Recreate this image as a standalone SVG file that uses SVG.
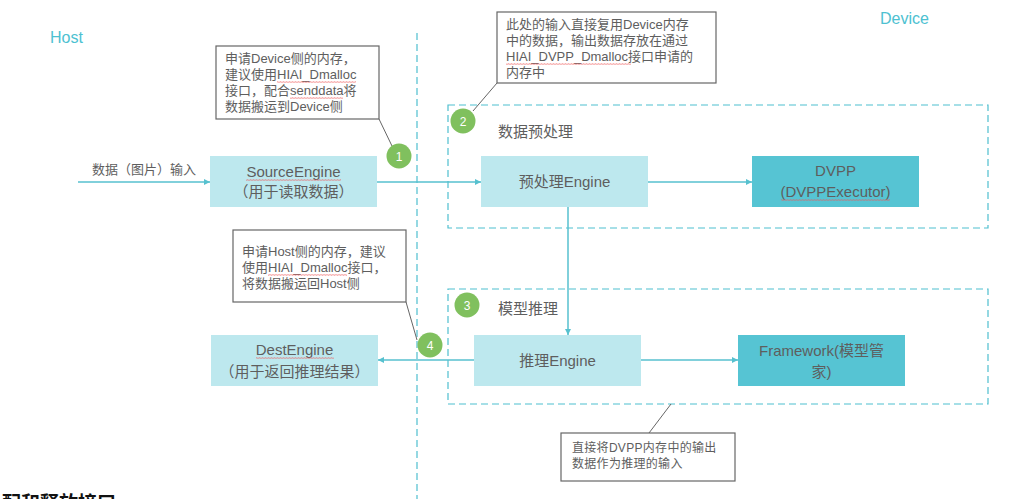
<svg xmlns="http://www.w3.org/2000/svg" width="1024" height="499" viewBox="0 0 1024 499">
<style>
text{font-family:"Liberation Sans","Noto Sans CJK SC",sans-serif;fill:#5e5e5e}
.lbl{font-size:15px;text-anchor:middle}
.note{font-size:13px}
.note2{font-size:12px;letter-spacing:0.3px}
.zone{font-size:16px;fill:#4dc1d1}
.num{font-size:12px;fill:#fff;text-anchor:middle}
.light{fill:#bde8ee}
.dark{fill:#56c4d3}
.dash{fill:none;stroke:#4fbfcf;stroke-width:1.2;stroke-dasharray:7 4}
.callout{fill:#fff;stroke:#666;stroke-width:1.2}
.lead{stroke:#666;stroke-width:1}
.badge{fill:#80c05e}
.conn{stroke:#57c1cf;stroke-width:1.5;fill:none;marker-end:url(#ah)}
.wave{fill:url(#wv)}
</style>
<defs>
<marker id="ah" viewBox="0 0 10 10" refX="10" refY="5" markerWidth="6" markerHeight="6" orient="auto" markerUnits="userSpaceOnUse">
<path d="M0,0L10,5L0,10z" fill="#57c1cf"/>
</marker>
<pattern id="wv" width="3" height="2" patternUnits="userSpaceOnUse">
<polyline points="0,1.7 0.75,0.3 1.5,1.7 2.25,0.3 3,1.7" fill="none" stroke="#e55" stroke-width="0.5" stroke-opacity="0.85"/>
</pattern>
</defs>
<rect width="1024" height="499" fill="#fff"/>

<g id="zones">
<text class="zone" x="50" y="43">Host</text>
<text class="zone" x="880" y="24">Device</text>
<line x1="417" y1="33" x2="417" y2="499" class="dash"/>
</g>

<g id="group-preprocess">
<rect x="448" y="105" width="540" height="123" class="dash"/>
<text x="498" y="137" style="font-size:15px">数据预处理</text>
</g>
<g id="group-inference">
<rect x="448" y="289" width="540" height="115" class="dash"/>
<text x="498" y="314" style="font-size:15px">模型推理</text>
</g>

<g id="connectors">
<line x1="78" y1="182" x2="210" y2="182" class="conn"/>
<line x1="377" y1="182" x2="481" y2="182" class="conn"/>
<line x1="648" y1="182" x2="752" y2="182" class="conn"/>
<line x1="568" y1="207" x2="568" y2="335" class="conn"/>
<line x1="634" y1="360" x2="738" y2="360" class="conn"/>
<line x1="474" y1="360" x2="378" y2="360" class="conn"/>
<text x="92" y="174" style="font-size:13px">数据（图片）输入</text>
</g>

<g id="SourceEngine">
<rect x="210" y="156" width="167" height="51" class="light"/>
<text class="lbl" x="293.5" y="177">SourceEngine</text>
<text class="lbl" x="293.5" y="197">（用于读取数据）</text>
<rect x="246" y="179" width="95" height="2" class="wave"/>
</g>

<g id="PreprocessEngine">
<rect x="481" y="156" width="167" height="51" class="light"/>
<text class="lbl" x="564.5" y="187">预处理Engine</text>
</g>

<g id="DVPP">
<rect x="752" y="156" width="167" height="51" class="dark"/>
<text class="lbl" x="835.5" y="176">DVPP</text>
<text class="lbl" x="835.5" y="197">(DVPPExecutor)</text>
<rect x="781" y="199" width="109" height="2" class="wave"/>
</g>

<g id="InferenceEngine">
<rect x="474" y="335" width="167" height="51" class="light"/>
<text class="lbl" x="557.5" y="366">推理Engine</text>
</g>

<g id="Framework">
<rect x="738" y="335" width="167" height="51" class="dark"/>
<text class="lbl" x="821.5" y="356">Framework(模型管</text>
<text class="lbl" x="821.5" y="377">家)</text>
</g>

<g id="DestEngine">
<rect x="211" y="335" width="167" height="51" class="light"/>
<text class="lbl" x="294.5" y="355">DestEngine</text>
<text class="lbl" x="294.5" y="377">（用于返回推理结果）</text>
<rect x="256" y="357" width="78" height="2" class="wave"/>
</g>

<g id="note1">
<rect x="216" y="46" width="163" height="73" class="callout"/>
<line x1="379" y1="119" x2="392" y2="146" class="lead"/>
<text class="note" x="225" y="63">申请Device侧的内存，</text>
<text class="note" x="225" y="79">建议使用HIAI_Dmalloc</text>
<text class="note" x="225" y="95">接口，配合senddata将</text>
<text class="note" x="225" y="111">数据搬运到Device侧</text>
<rect x="277" y="81" width="79" height="2" class="wave"/>
<rect x="290" y="97" width="53" height="2" class="wave"/>
<circle cx="399" cy="156" r="12.5" class="badge"/>
<text class="num" x="399" y="160.5">1</text>
</g>

<g id="note2">
<rect x="497" y="12" width="219" height="71" class="callout"/>
<line x1="497" y1="83" x2="473" y2="111" class="lead"/>
<text class="note" x="506" y="29">此处的输入直接复用Device内存</text>
<text class="note" x="506" y="45">中的数据，输出数据存放在通过</text>
<text class="note" x="506" y="61">HIAI_DVPP_Dmalloc接口申请的</text>
<text class="note" x="506" y="77">内存中</text>
<rect x="506" y="63" width="125" height="2" class="wave"/>
<circle cx="463" cy="121" r="12.5" class="badge"/>
<text class="num" x="463" y="125.5">2</text>
</g>

<g id="badge3">
<circle cx="467" cy="305" r="12.5" class="badge"/>
<text class="num" x="467" y="309.5">3</text>
</g>

<g id="note4">
<rect x="233" y="230" width="173" height="72" class="callout"/>
<line x1="406" y1="302" x2="417" y2="340" class="lead"/>
<text class="note" x="242" y="256">申请Host侧的内存，建议</text>
<text class="note" x="242" y="272">使用HIAI_Dmalloc接口，</text>
<text class="note" x="242" y="288">将数据搬运回Host侧</text>
<rect x="268" y="274" width="79" height="2" class="wave"/>
<circle cx="430" cy="345" r="12.5" class="badge"/>
<text class="num" x="430" y="349.5">4</text>
</g>

<g id="note5">
<rect x="561" y="433" width="174" height="48" class="callout"/>
<line x1="649" y1="433" x2="671" y2="404" class="lead"/>
<text class="note2" x="572" y="452">直接将DVPP内存中的输出</text>
<text class="note2" x="572" y="468">数据作为推理的输入</text>
</g>

<text x="2" y="510" style="font-size:19px;font-weight:bold;fill:#111">配和释放接口</text>
</svg>
